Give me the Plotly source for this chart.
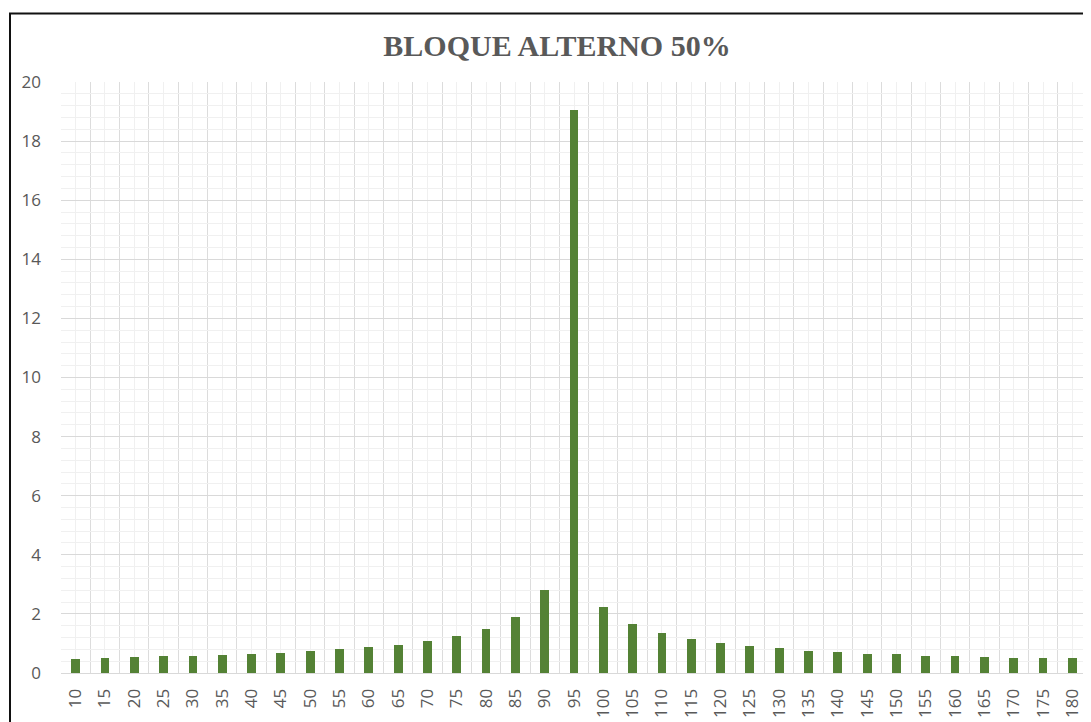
import plotly.graph_objects as go

# Data
angles = list(range(10, 185, 5))
values = [0.48, 0.52, 0.54, 0.56, 0.59, 0.61, 0.65, 0.68, 0.73, 0.80,
          0.88, 0.95, 1.08, 1.24, 1.49, 1.90, 2.82, 19.05, 2.23, 1.66,
          1.34, 1.15, 1.03, 0.90, 0.83, 0.76, 0.71, 0.65, 0.63, 0.59,
          0.56, 0.54, 0.52, 0.50, 0.50]
tick_labels = [str(a) for a in angles]
title_text = "BLOQUE ALTERNO 50%"

step = angles[1] - angles[0]
boundaries = [a - step / 2 for a in angles] + [angles[-1] + step / 2]

# page body has an 8px margin; compensate so the picture lines up with the window
W, H = 1083, 714
OFF = 8

fig = go.Figure()
fig.add_trace(go.Bar(
    x=angles, y=values, width=step * 0.3,
    marker=dict(color="#548235", line=dict(width=0)),
    hoverinfo="x+y",
))

tick_font = dict(family="Open Sans, Lato, sans-serif", size=17, color="#595959")

pl, pr, pt, pb = 61 - OFF, 1087 - OFF, 82 - OFF, 673 - OFF
fig.update_layout(
    width=W, height=H,
    margin=dict(l=pl, r=W - pr, t=pt, b=H - pb, autoexpand=False),
    paper_bgcolor="white", plot_bgcolor="white",
    showlegend=False,
    bargap=0,
    title=dict(
        text="<b>" + title_text + "</b>",
        x=(557 - OFF) / W, xanchor="center", xref="container",
        y=1 - (45 - OFF) / H, yanchor="middle", yref="container",
        font=dict(family="Liberation Serif, Times New Roman, serif", size=30, color="#595959"),
    ),
    xaxis=dict(
        range=[boundaries[0], boundaries[-1]],
        tickmode="array", tickvals=angles, ticktext=tick_labels,
        tickangle=-90, tickfont=tick_font, automargin=False,
        showgrid=True, gridcolor="#f0f0f0", gridwidth=1,
        ticks="", ticklabelstandoff=8,
        showline=True, linecolor="#d9d9d9", linewidth=1,
        zeroline=False,
        minor=dict(tickmode="array", tickvals=boundaries, showgrid=True,
                   gridcolor="#dcdcdc", gridwidth=1, ticks=""),
        fixedrange=True,
    ),
    yaxis=dict(
        range=[0, 20], dtick=2, tick0=0,
        tickfont=tick_font, automargin=False,
        showgrid=True, gridcolor="#d9d9d9", gridwidth=1,
        ticks="", ticklabelstandoff=19,
        showline=False, zeroline=False,
        minor=dict(dtick=0.4, showgrid=True, gridcolor="#f0f0f0", gridwidth=1, ticks=""),
        fixedrange=True,
    ),
    shapes=[dict(
        type="rect", xref="paper", yref="paper",
        x0=(10 - 61) / (pr - pl), x1=1.2, y0=-0.3, y1=(673 - 13.5) / (pb - pt),
        line=dict(color="#111111", width=2), fillcolor="rgba(0,0,0,0)",
        layer="above",
    )],
)

fig.write_html("out.html")
